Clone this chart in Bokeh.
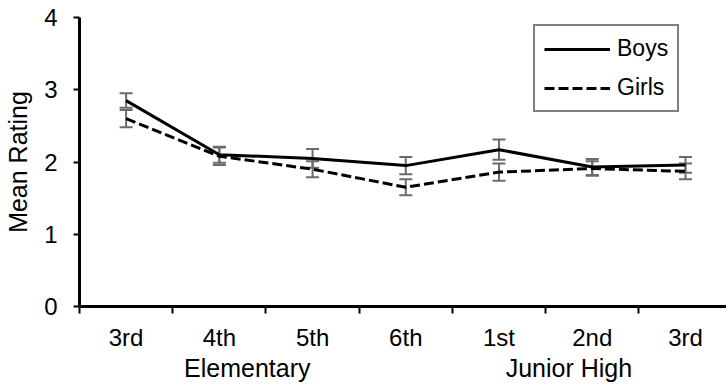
from bokeh.plotting import figure
from bokeh.models import (Range1d, FixedTicker, LinearAxis, Whisker, TeeHead,
                          ColumnDataSource, Legend, LegendItem)
from bokeh.embed import file_html
from bokeh.resources import INLINE

# ---- data ----
grades = ["3rd", "4th", "5th", "6th", "1st", "2nd", "3rd"]
groups = ["Elementary", "Junior High"]
boys = [2.85, 2.10, 2.05, 1.95, 2.17, 1.93, 1.96]
boys_se = [0.10, 0.11, 0.13, 0.12, 0.14, 0.11, 0.11]
girls = [2.60, 2.08, 1.90, 1.65, 1.86, 1.91, 1.87]
girls_se = [0.12, 0.12, 0.11, 0.11, 0.12, 0.10, 0.11]
y_ticks = [0, 1, 2, 3, 4]

FONT = "Liberation Sans"
x = [i + 0.5 for i in range(len(grades))]
group_pos = [1.80, 5.25]

p = figure(width=726, height=385, output_backend="svg", toolbar_location=None,
           x_range=Range1d(0, 6.94), y_range=Range1d(0, 4),
           min_border_left=79, min_border_top=17, min_border_bottom=79,
           min_border_right=0)
p.outline_line_color = None
p.xgrid.visible = False
p.ygrid.visible = False
p.background_fill_color = "white"
p.border_fill_color = "white"

# y axis
ya = p.yaxis[0]
ya.ticker = FixedTicker(ticks=y_ticks)
ya.axis_line_width = 3
ya.major_tick_line_width = 2
ya.major_tick_out = 6
ya.major_tick_in = 0
ya.minor_tick_line_color = None
ya.major_label_standoff = 16
ya.major_label_text_font = FONT
ya.major_label_text_font_size = "24px"
ya.major_label_text_color = "black"
ya.axis_label = "Mean Rating"
ya.axis_label_text_font = FONT
ya.axis_label_text_font_size = "25px"
ya.axis_label_text_font_style = "normal"
ya.axis_label_text_color = "black"
ya.axis_label_standoff = 9

# x axis: labels at centers, ticks at boundaries (minor)
xa = p.xaxis[0]
xa.ticker = FixedTicker(ticks=x, minor_ticks=list(range(len(grades) + 1)))
xa.major_label_overrides = {xi: g for xi, g in zip(x, grades)}
xa.axis_line_width = 3
xa.major_tick_line_color = None
xa.major_tick_out = 0
xa.major_tick_in = 0
xa.minor_tick_out = 7
xa.minor_tick_in = 0
xa.minor_tick_line_width = 2
xa.major_label_standoff = 10
xa.major_label_text_font = FONT
xa.major_label_text_font_size = "24px"
xa.major_label_text_color = "black"

# group axis
ga = LinearAxis(ticker=FixedTicker(ticks=group_pos, minor_ticks=[]),
                major_label_overrides={gp: g for gp, g in zip(group_pos, groups)})
ga.axis_line_color = None
ga.major_tick_line_color = None
ga.minor_tick_line_color = None
ga.major_tick_out = 0
ga.major_tick_in = 0
ga.major_label_standoff = 0
ga.major_label_text_font = FONT
ga.major_label_text_font_size = "25px"
ga.major_label_text_color = "black"
p.add_layout(ga, "below")

# lines
lb = p.line(x, boys, line_color="black", line_width=3)
lg = p.line(x, girls, line_color="black", line_width=3, line_dash="10 4")

# error bars
for vals, se in ((boys, boys_se), (girls, girls_se)):
    src = ColumnDataSource(dict(x=x,
                                upper=[v + s for v, s in zip(vals, se)],
                                lower=[v - s for v, s in zip(vals, se)]))
    w = Whisker(source=src, base="x", upper="upper", lower="lower",
                line_color="#6b6b6b", line_width=2,
                upper_head=TeeHead(size=13, line_color="#6b6b6b", line_width=2),
                lower_head=TeeHead(size=13, line_color="#6b6b6b", line_width=2))
    p.add_layout(w)

legend = Legend(items=[LegendItem(label="Boys", renderers=[lb]),
                       LegendItem(label="Girls", renderers=[lg])],
                location=(454, 194))
legend.label_text_font = FONT
legend.label_text_font_size = "23px"
legend.label_text_color = "black"
legend.border_line_color = "black"
legend.border_line_width = 2
legend.background_fill_color = "white"
legend.background_fill_alpha = 1
legend.padding = 9
legend.spacing = 12
legend.glyph_width = 66
legend.glyph_height = 24
legend.label_height = 24
legend.label_standoff = 7
legend.margin = 0
p.add_layout(legend)

open("out.html", "w").write(file_html(p, INLINE))
